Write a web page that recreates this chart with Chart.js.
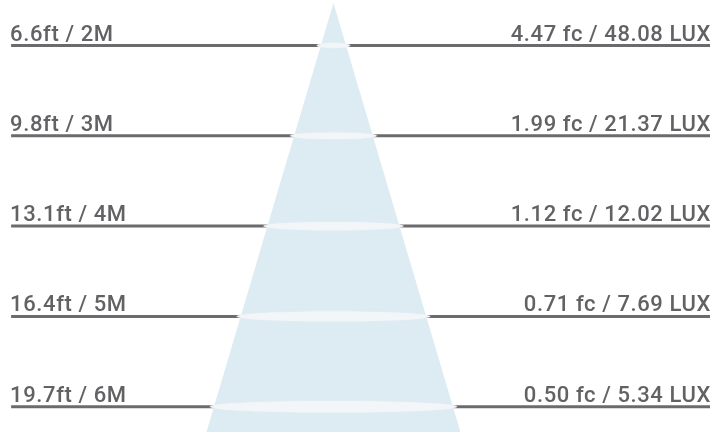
<!DOCTYPE html>
<html>
<head>
<meta charset="utf-8">
<script src="https://cdn.jsdelivr.net/npm/chart.js@4/dist/chart.umd.min.js"></script>
<style>
  html, body { margin: 0; padding: 0; background: #fff; }
  #wrap { width: 725px; height: 432px; position: relative; }
</style>
</head>
<body>
<div id="wrap"><canvas id="chart"></canvas></div>
<script>
// distances (metres) and their labels
var distances = [2, 3, 4, 5, 6]
var leftLabels = ['6.6ft / 2M', '9.8ft / 3M', '13.1ft / 4M', '16.4ft / 5M', '19.7ft / 6M']
var footCandles = ['4.47', '1.99', '1.12', '0.71', '0.50']
var lux = ['48.08', '21.37', '12.02', '7.69', '5.34']

// beam cone: starts at apexDist, spreads by halfSpread metres per metre
var apexDist = 1.53
var baseDist = 6.28
var halfSpread = 0.296

function halfWidth(d) { return halfSpread * (d - apexDist) }

var rightLabels = footCandles.map(function(fc, i){ return fc + ' fc / ' + lux[i] + ' LUX' })

var X_MIN = -3.693, X_MAX = 4.336
var RULE_L = -3.57, RULE_R = 4.17

var cone = [
    {x: -halfWidth(baseDist), y: baseDist},
    {x: 0, y: apexDist},
    {x: halfWidth(baseDist), y: baseDist}
]

var leftRules = []
var rightRules = []
distances.forEach(function(d){
    leftRules.push({x: RULE_L, y: d}, {x: -halfWidth(d), y: d}, {x: NaN, y: null})
    rightRules.push({x: halfWidth(d), y: d}, {x: RULE_R, y: d}, {x: NaN, y: null})
})

var ringsAndText = {
    id: 'ringsAndText',
    afterDatasetsDraw: function(chart){
        var ctx = chart.ctx
        var xs = chart.scales.x, ys = chart.scales.y
        ctx.save()
        distances.forEach(function(d, i){
            var cy = ys.getPixelForValue(d)
            var cx = xs.getPixelForValue(0)
            var w = xs.getPixelForValue(halfWidth(d)) - cx + 4
            var h = 2 + 0.015 * w * 2
            ctx.beginPath()
            ctx.ellipse(cx, cy, w, h, 0, 0, Math.PI * 2)
            ctx.fillStyle = 'rgba(242,246,249,0.95)'
            ctx.shadowColor = 'rgba(240,244,247,1)'
            ctx.shadowBlur = 2
            ctx.fill()
            ctx.shadowBlur = 0

            ctx.fillStyle = '#626265'
            ctx.font = '500 22px Roboto'
            if ('letterSpacing' in ctx) ctx.letterSpacing = '0.6px'
            ctx.textBaseline = 'alphabetic'
            ctx.textAlign = 'left'
            ctx.fillText(leftLabels[i], xs.getPixelForValue(RULE_L) - 1, cy - 5)
            ctx.textAlign = 'right'
            ctx.fillText(rightLabels[i], xs.getPixelForValue(RULE_R) + 1, cy - 5)
        })
        ctx.restore()
    }
}

var chart = new Chart(document.getElementById('chart').getContext('2d'), {
    type: 'scatter',
    data: {
        datasets: [
            {
                data: cone,
                showLine: true,
                borderWidth: 0,
                pointRadius: 0,
                backgroundColor: '#ddebf3',
                fill: 'start'
            },
            {
                data: leftRules,
                showLine: true,
                spanGaps: false,
                borderColor: '#6b6b6e',
                borderWidth: 3,
                pointRadius: 0
            },
            {
                data: rightRules,
                showLine: true,
                spanGaps: false,
                borderColor: '#6b6b6e',
                borderWidth: 3,
                pointRadius: 0
            }
        ]
    },
    options: {
        responsive: true,
        maintainAspectRatio: false,
        animation: false,
        layout: { padding: 0 },
        plugins: { legend: { display: false }, tooltip: { enabled: false } },
        scales: {
            x: { type: 'linear', min: X_MIN, max: X_MAX, display: false },
            y: { type: 'linear', min: 1.496, max: 6.28, reverse: true, display: false }
        }
    },
    plugins: [ringsAndText]
})
</script>
</body>
</html>
